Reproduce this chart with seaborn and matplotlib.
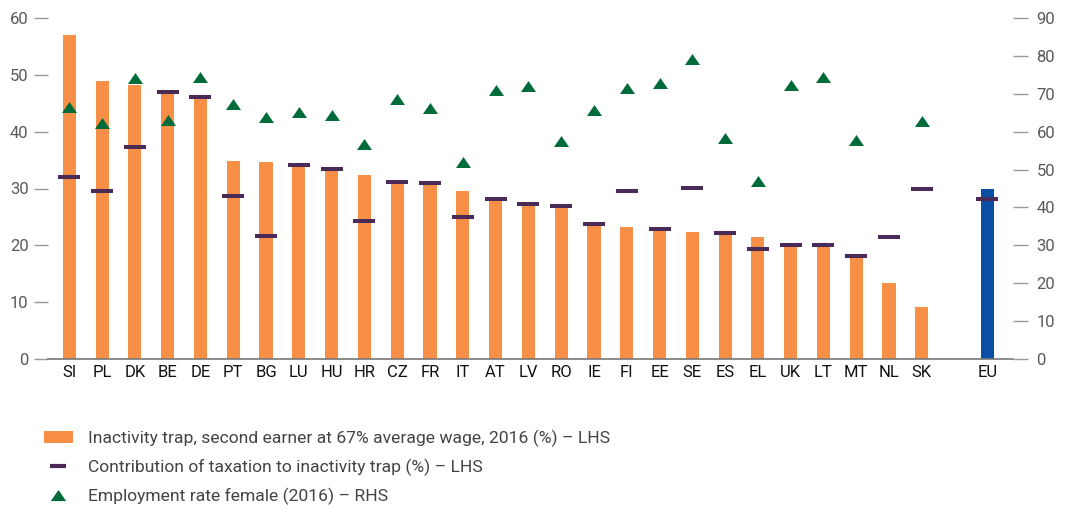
import matplotlib
matplotlib.use("Agg")
import matplotlib.pyplot as plt
import seaborn as sns
import pandas as pd
import numpy as np
from matplotlib.lines import Line2D
from matplotlib.patches import Patch
from matplotlib.markers import MarkerStyle

# ---------------- data ----------------
countries = ["SI", "PL", "DK", "BE", "DE", "PT", "BG", "LU", "HU", "HR", "CZ", "FR",
             "IT", "AT", "LV", "RO", "IE", "FI", "EE", "SE", "ES", "EL", "UK", "LT",
             "MT", "NL", "SK", "EU"]
inactivity = [57.0, 48.9, 48.2, 46.8, 45.8, 34.8, 34.7, 34.0, 33.3, 32.4, 31.0, 30.8,
              29.6, 28.0, 27.2, 26.8, 23.7, 23.2, 22.8, 22.4, 22.1, 21.5, 19.8, 19.8,
              18.0, 13.4, 9.2, 29.9]
taxation = [32.1, 29.6, 37.3, 47.0, 46.1, 28.7, 21.7, 34.2, 33.5, 24.3, 31.2, 31.0,
            24.9, 28.2, 27.3, 27.0, 23.8, 29.6, 22.9, 30.1, 22.2, 19.3, 20.0, 20.0,
            18.2, 21.5, 30.0, 28.2]
employment = [66.6, 62.2, 74.1, 63.0, 74.4, 67.4, 64.0, 65.1, 64.5, 56.7, 68.6, 66.2,
              51.9, 70.9, 72.0, 57.5, 65.6, 71.6, 72.8, 79.1, 58.3, 47.0, 72.3, 74.4,
              57.9, np.nan, 62.8, np.nan]
left_ticks = [0, 10, 20, 30, 40, 50, 60]
right_ticks = [0, 10, 20, 30, 40, 50, 60, 70, 80, 90]
labels = ["Inactivity trap, second earner at 67% average wage, 2016 (%) \u2013 LHS",
          "Contribution of taxation to inactivity trap (%) \u2013 LHS",
          "Employment rate female (2016) \u2013 RHS"]

ORANGE = "#F79046"
BLUE = "#0A4FA3"
PURPLE = "#4A2B58"
GREEN = "#006B3A"

sns.set_style("white")
plt.rcParams["font.family"] = ["Roboto", "DejaVu Sans"]

fig = plt.figure(figsize=(10.66, 5.09), dpi=100)
ax = fig.add_axes([48 / 1066, 1 - 359 / 509, (1013 - 48) / 1066, (359 - 18) / 509])

order = countries[:-1] + [" "] + ["EU"]
df = pd.DataFrame({"country": countries, "inactivity": inactivity,
                   "taxation": taxation, "employment": employment})
df["pos"] = [order.index(c) for c in countries]
palette = {c: (BLUE if c == "EU" else ORANGE) for c in countries}

sns.barplot(data=df, x="country", y="inactivity", order=order, hue="country",
            palette=palette, width=0.4, saturation=1, legend=False, ax=ax,
            edgecolor="none", linewidth=0)

ax2 = ax.twinx()
ax2.set_position(ax.get_position())

sns.scatterplot(data=df, x="pos", y="taxation", marker="_", s=250, color=PURPLE,
                linewidth=2.9, ax=ax, zorder=4, legend=False)

tri = MarkerStyle([(-1, -0.73), (1, -0.73), (0, 0.73)])
sns.scatterplot(data=df.dropna(subset=["employment"]), x="pos", y="employment",
                marker=tri, s=117, color=GREEN, linewidth=0, ax=ax2, zorder=5,
                legend=False)

ax.set_xlim(-0.65, 28.78)
ax.set_ylim(0, 60)
ax.set_yticks(left_ticks)
ax.set_xticks(range(len(order)))
ax.set_xticklabels(order)
ax.set_xlabel("")
ax.set_ylabel("")
ax2.set_xlim(-0.65, 28.78)
ax2.set_ylim(0, 90)
ax2.set_yticks(right_ticks)
ax2.set_ylabel("")
ax2.set_xlabel("")

for s in ["left", "top", "right"]:
    ax.spines[s].set_visible(False)
ax.spines["bottom"].set_color("#777777")
ax.spines["bottom"].set_linewidth(1.2)
for s in ax2.spines.values():
    s.set_visible(False)

ax.tick_params(axis="y", length=10, width=1, color="#999999", labelcolor="#5a5a5a",
               labelsize=12, pad=4, left=True)
ax.tick_params(axis="x", length=0, labelsize=12, labelcolor="#111111", pad=4)
ax2.tick_params(axis="y", length=11, width=1, color="#999999", labelcolor="#5a5a5a",
                labelsize=12, pad=6, right=True)
ax.grid(False)
ax2.grid(False)

handles = [Patch(facecolor=ORANGE, edgecolor="none"),
           Line2D([], [], ls="none", marker="_", markersize=11, mew=3, color=PURPLE),
           Line2D([], [], ls="none", marker=tri, markersize=11, color=GREEN, mew=0)]
fig.legend(handles, labels, loc="upper left", bbox_to_anchor=(44 / 1066, 1 - 430 / 509),
           frameon=False, fontsize=12.6, handlelength=1.65, handleheight=0.7,
           handletextpad=0.85, labelspacing=0.66, borderpad=0, borderaxespad=0,
           labelcolor="#444444")

fig.savefig("out.png", dpi=100)
